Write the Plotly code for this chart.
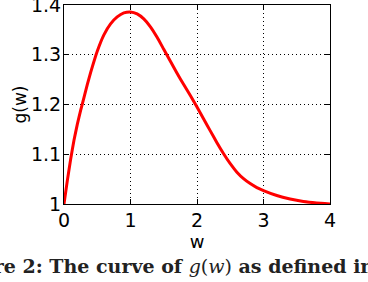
import plotly.graph_objects as go

# Data
w_vals = [0.0, 0.05, 0.1, 0.15, 0.2, 0.25, 0.3, 0.35, 0.4, 0.5, 0.6, 0.7, 0.8,
          0.9, 1.0, 1.1, 1.2, 1.3, 1.4, 1.5, 1.6, 1.7, 1.8, 1.9, 2.0, 2.1,
          2.2, 2.3, 2.4, 2.5, 2.6, 2.7, 2.8, 2.9, 3.0, 3.2, 3.4, 3.6, 3.8, 4.0]
g_vals = [1.000, 1.047, 1.090, 1.128, 1.160, 1.188, 1.214, 1.240, 1.264, 1.307,
          1.340, 1.362, 1.376, 1.384, 1.386, 1.382, 1.372, 1.356, 1.335, 1.311,
          1.287, 1.263, 1.240, 1.218, 1.195, 1.171, 1.147, 1.123, 1.101, 1.081,
          1.064, 1.051, 1.041, 1.033, 1.027, 1.017, 1.010, 1.005, 1.002, 1.000]

x_ticks = [0, 1, 2, 3, 4]
x_tick_labels = ["0", "1", "2", "3", "4"]
y_ticks = [1.0, 1.1, 1.2, 1.3, 1.4]
y_tick_labels = ["1", "1.1", "1.2", "1.3", "1.4"]

caption = "<b>Figure 2: The curve of </b><i>g</i>(<i>w</i>)<b> as defined in</b>"

fig = go.Figure()
fig.add_trace(go.Scatter(x=w_vals, y=g_vals, mode="lines",
                         line=dict(color="#ff0000", width=3, shape="spline", smoothing=0.4),
                         showlegend=False))

axis_common = dict(
    showline=True, linecolor="black", linewidth=1, mirror="allticks",
    ticks="inside", ticklen=5, tickcolor="black", tickwidth=1,
    showgrid=True, gridcolor="black", gridwidth=1, griddash="1px,3px",
    zeroline=False, ticklabeloverflow="allow",
    tickfont=dict(family="DejaVu Sans", size=19, color="black"),
)

fig.update_xaxes(range=[0, 4], tickvals=x_ticks, ticktext=x_tick_labels,
                 ticklabelstandoff=-1, automargin="bottom",
                 title=dict(text="w", font=dict(family="DejaVu Sans", size=18, color="black"),
                            standoff=5),
                 **axis_common)
fig.update_yaxes(range=[1, 1.4], tickvals=y_ticks, ticktext=y_tick_labels,
                 ticklabelstandoff=-2, automargin="left",
                 title=dict(text="g(w)", font=dict(family="DejaVu Sans", size=17, color="black"),
                            standoff=0),
                 **axis_common)

fig.add_annotation(text=caption, xref="paper", yref="paper",
                   x=-0.452, y=-0.31, xanchor="left", yanchor="middle",
                   showarrow=False,
                   font=dict(family="DejaVu Serif", size=19, color="#222222"))

fig.update_layout(width=368, height=282,
                  margin=dict(l=64, r=38, t=5, b=78),
                  plot_bgcolor="white", paper_bgcolor="white")

# remove the browser's default 8px page margin so the figure sits at (0, 0)
fig.write_html("out.html", config={"displayModeBar": False},
               post_script="document.body.style.margin='0px';")
